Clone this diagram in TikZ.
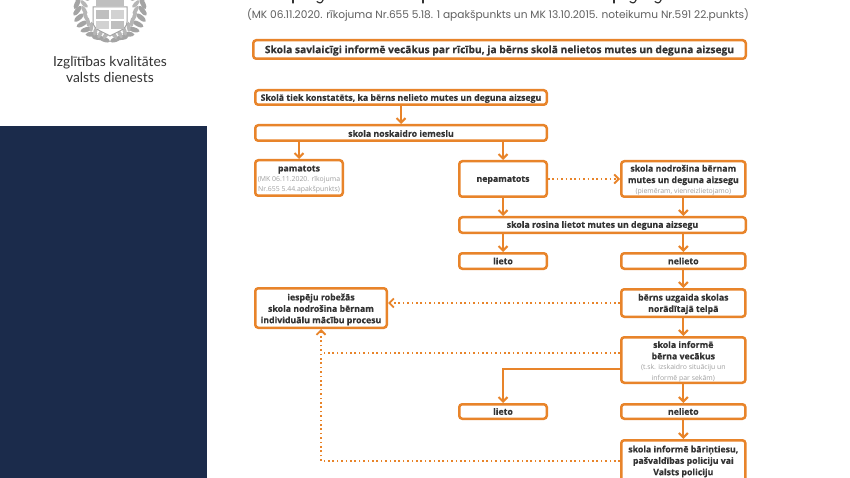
\documentclass[tikz,border=0pt]{standalone}
\usepackage{fontspec}
\setmainfont[BoldFeatures={FakeBold=0.35}]{Open Sans}
\newfontfamily\subfont{Poppins}
\newfontfamily\logofont{Lato}
\usetikzlibrary{arrows.meta,calc}
\definecolor{boxor}{HTML}{E8842A}
\definecolor{navyp}{HTML}{1B2B4B}
\definecolor{inkp}{HTML}{333333}
\definecolor{subg}{HTML}{A0A0A0}
\definecolor{crestg}{HTML}{A4A4A4}
\tikzset{
  bxframe/.style={draw=boxor,line width=2.5pt,rounded corners=3pt,fill=white,inner sep=0pt},
  bxtext/.style={align=center,inner sep=0pt,text=inkp,font=\fontsize{8.75}{11.4}\selectfont\bfseries},
  arr/.style={draw=boxor,line width=2.1pt,-{Straight Barb[length=4.5pt,width=9pt,line width=2.1pt]}},
  dotarr/.style={draw=boxor,line width=1.6pt,dash pattern=on 1.6pt off 2.8pt,-{Straight Barb[length=4.5pt,width=9pt,line width=1.8pt]}},
  dotline/.style={draw=boxor,line width=1.6pt,dash pattern=on 1.6pt off 2.8pt},
}
\newcommand{\subt}[1]{{\fontsize{6.9}{9.8}\selectfont\mdseries\color{subg}#1}}
\newcommand{\bxnode}[7][1]{%
  \pgfmathsetmacro{\cxx}{(#3+#5)/2}\pgfmathsetmacro{\cyy}{(#4+#6)/2}%
  \pgfmathsetmacro{\wdd}{#5-#3-2.5}\pgfmathsetmacro{\htt}{#6-#4-2.5}%
  \pgfmathsetmacro{\tyy}{\cyy+#1}%
  \node[bxframe,minimum width=\wdd pt,minimum height=\htt pt] (#2) at (\cxx,\cyy) {};
  \node[bxtext] (#2t) at (\cxx,\tyy) {#7};}
\begin{document}
\begin{tikzpicture}[x=1pt,y=-1pt]
\useasboundingbox (0,0) rectangle (850,478);
\fill[white] (0,0) rectangle (850,478);
% left panel
\fill[navyp] (0,126) rectangle (207,478);
% crest wreath
\foreach \a in {100,112,...,215}{
  \fill[crestg,shift={(110+33*cos \a,6+34*sin \a)},rotate=\a+60] (0,0) ellipse (6 and 2.4);
  \fill[crestg!80,shift={(110+26*cos \a,6+30*sin \a)},rotate=\a-50] (0,0) ellipse (5 and 2);
}
\foreach \a in {80,68,...,-35}{
  \fill[crestg,shift={(110+33*cos \a,6+34*sin \a)},rotate=\a-60] (0,0) ellipse (6 and 2.4);
  \fill[crestg!80,shift={(110+26*cos \a,6+30*sin \a)},rotate=\a+50] (0,0) ellipse (5 and 2);
}
\fill[crestg!70] (96,0) rectangle (124,6);
\filldraw[fill=white,draw=crestg,line width=1pt] (93,7) -- (127,7) -- (127,22) .. controls (127,30) and (116,32) .. (110,36) .. controls (104,32) and (93,30) .. (93,22) -- cycle;
\fill[crestg!70] (96,10) rectangle (109,19);
\fill[crestg!50] (111,10) rectangle (124,19);
\fill[crestg!50] (96,21) rectangle (109,29);
\fill[crestg!70] (111,21) rectangle (124,29);
\node[inner sep=0pt,text=inkp,align=center,font=\logofont\fontsize{13.8}{15.6}\selectfont] (logo) at (110,69.5) {Izglītības kvalitātes\\valsts dienests};
% title remnants
\foreach \xx in {293,423,614}{
  \draw[inkp,line width=1.3pt,line cap=round] (\xx,0) -- (\xx,3);
}
\foreach \xx in {320,633,658}{
  \draw[inkp,line width=1.2pt,line cap=round] (\xx-3,1.5) .. controls (\xx-1,3.5) and (\xx+2,3.5) .. (\xx+3,0);
}
% subtitle
\node[inner sep=0pt,text=subg!60!black,font=\subfont\fontsize{10.6}{12}\selectfont] (subtitle) at (498,14.5) {(MK 06.11.2020. rīkojuma Nr.655 5.18. 1 apakšpunkts un MK 13.10.2015. noteikumu Nr.591 22.punkts)};
% boxes
\bxnode{main}{252}{39}{747}{60}{\fontsize{10.25}{12}\selectfont Skola savlaicīgi informē vecākus par rīcību, ja bērns skolā nelietos mutes un deguna aizsegu}
\bxnode{k}{254}{89}{548}{106}{Skolā tiek konstatēts, ka bērns nelieto mutes un deguna aizsegu}
\bxnode[0.5]{n}{254}{124}{548}{142}{skola noskaidro iemeslu}
\bxnode[1.5]{p}{254}{159}{344}{197}{pamatots\\[-1.5pt]\subt{(MK 06.11.2020. rīkojuma}\\[-1pt]\subt{Nr.655 5.44.apakšpunkts)}}
\bxnode{nep}{458}{160}{548}{198}{nepamatots}
\bxnode{nod}{620}{160}{746.6}{198}{skola nodrošina bērnam\\mutes un deguna aizsegu\\[-1pt]\subt{(piemēram, vienreizlietojamo)}}
\bxnode[0.5]{ros}{458}{216}{747}{234}{skola rosina lietot mutes un deguna aizsegu}
\bxnode[0]{l}{458}{252}{548}{270}{lieto}
\bxnode[0]{nl}{620}{252}{746.6}{270}{nelieto}
\bxnode{uz}{620}{288}{746.6}{318}{bērns uzgaida skolas\\norādītajā telpā}
\bxnode[1.5]{i}{254}{287}{388}{329}{iespēju robežās\\skola nodrošina bērnam\\individuālu mācību procesu}
\bxnode[1.5]{inf}{620}{336}{746.6}{384}{skola informē\\bērna vecākus\\[-1pt]\subt{(t.sk. izskaidro situāciju un}\\[-1pt]\subt{informē par sekām)}}
\bxnode[0]{l2}{458}{403}{548}{420}{lieto}
\bxnode[0]{nl2}{620}{403}{746.6}{420}{nelieto}
\bxnode[0.5]{bar}{620}{439}{746.6}{483}{skola informē bāriņtiesu,\\pašvaldības policiju vai\\Valsts policiju}
% connectors
\draw[arr] (k.south) -- (n.north);
\draw[arr] (p.north |- n.south) -- (p.north);
\draw[arr] (nep.north |- n.south) -- (nep.north);
\draw[arr] (nep.south) -- (nep.south |- ros.north);
\draw[arr] (l.north |- ros.south) -- (l.north);
\draw[arr] (nod.south) -- (nod.south |- ros.north);
\draw[arr] (nl.north |- ros.south) -- (nl.north);
\draw[arr] (nl.south) -- (uz.north);
\draw[arr] (uz.south) -- (inf.north);
\draw[arr] (inf.south) -- (nl2.north);
\draw[arr] (nl2.south) -- (bar.north);
\draw[arr] ([yshift=-9pt]inf.west) -| (l2.north);
\draw[dotarr] (nep.east) -- (nod.west);
\draw[dotarr] (uz.west) -- (uz.west -| i.east);
\coordinate (jnref) at ([yshift=7pt]inf.west);
\coordinate (jn) at (i.south |- jnref);
\draw[dotline] (jnref) -- (jn);
\draw[dotarr] (bar.west) -| (i.south);
\end{tikzpicture}
\end{document}
